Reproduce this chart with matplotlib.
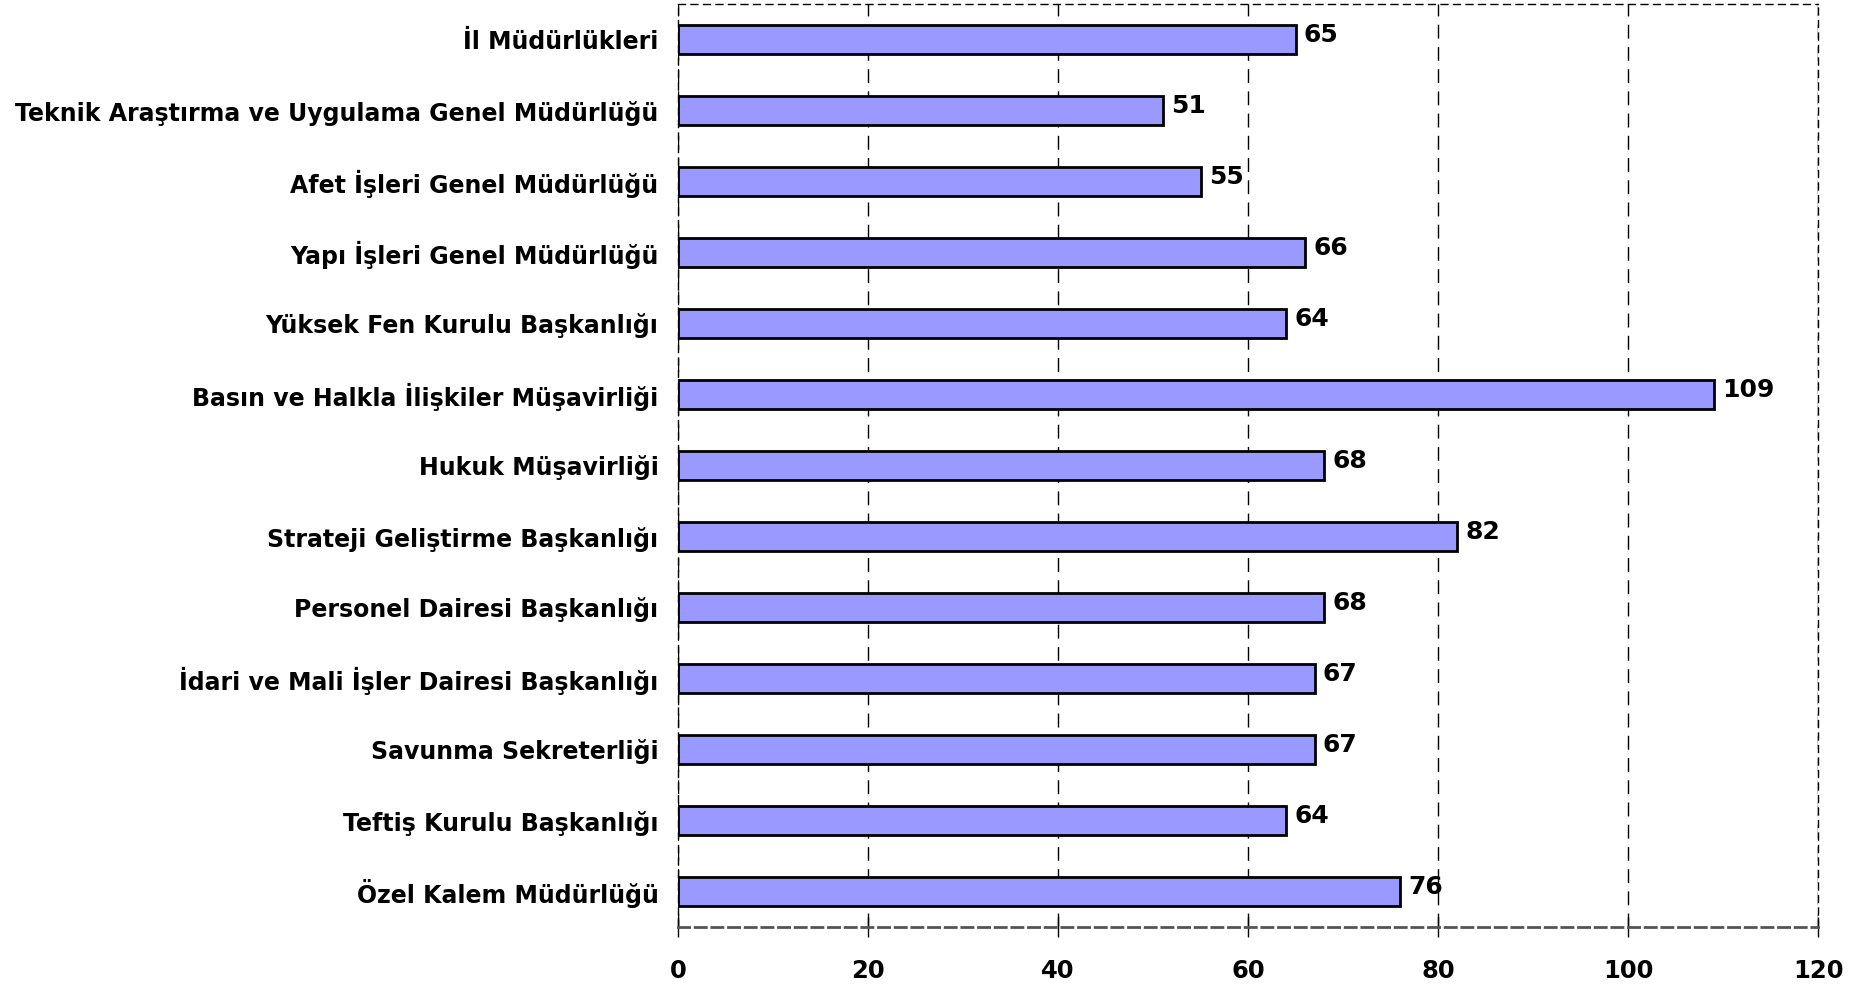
import matplotlib
matplotlib.use("Agg")
import matplotlib.pyplot as plt

# Units, top to bottom as in the chart
units = [
    "İl Müdürlükleri",
    "Teknik Araştırma ve Uygulama Genel Müdürlüğü",
    "Afet İşleri Genel Müdürlüğü",
    "Yapı İşleri Genel Müdürlüğü",
    "Yüksek Fen Kurulu Başkanlığı",
    "Basın ve Halkla İlişkiler Müşavirliği",
    "Hukuk Müşavirliği",
    "Strateji Geliştirme Başkanlığı",
    "Personel Dairesi Başkanlığı",
    "İdari ve Mali İşler Dairesi Başkanlığı",
    "Savunma Sekreterliği",
    "Teftiş Kurulu Başkanlığı",
    "Özel Kalem Müdürlüğü",
]
values = [65, 51, 55, 66, 64, 109, 68, 82, 68, 67, 67, 64, 76]
xticks = [0, 20, 40, 60, 80, 100, 120]

plt.rcParams["font.family"] = ["DejaVu Sans"]
plt.rcParams["font.weight"] = "bold"

fig = plt.figure(figsize=(18.76, 9.84), dpi=100)
ax = fig.add_axes([678 / 1876, 1 - 927 / 984, (1818 - 678) / 1876, (927 - 4) / 984])

pos = list(range(len(units)))
ax.barh(pos, values, height=0.40, color="#9999FF", edgecolor="black", linewidth=2, zorder=3)

for p, v in zip(pos, values):
    ax.annotate(str(v), xy=(v, p), xytext=(6, 3), textcoords="offset points",
                ha="left", va="center", fontsize=18, fontweight="bold", color="black")

ax.set_xlim(0, 120)
ax.set_ylim(len(units) - 0.5, -0.5)
ax.set_xticks(xticks)
ax.set_xticklabels([str(t) for t in xticks], fontsize=17.5, fontweight="bold")
ax.set_yticks(pos)
ax.set_yticklabels(units, fontsize=17, fontweight="bold")
ax.tick_params(axis="y", length=0, pad=14)
ax.tick_params(axis="x", length=14, width=1, direction="inout", pad=16, color="black")

ax.grid(axis="x", color="black", linestyle=(0, (10, 6)), linewidth=1, zorder=0)
for side in ["top", "right", "left"]:
    ax.spines[side].set_linestyle((0, (5, 4)))
    ax.spines[side].set_color("black")
    ax.spines[side].set_linewidth(1)
ax.spines["bottom"].set_linestyle((0, (4, 2)))
ax.spines["bottom"].set_color("#555555")
ax.spines["bottom"].set_linewidth(2)

fig.savefig("out.png", dpi=100)
